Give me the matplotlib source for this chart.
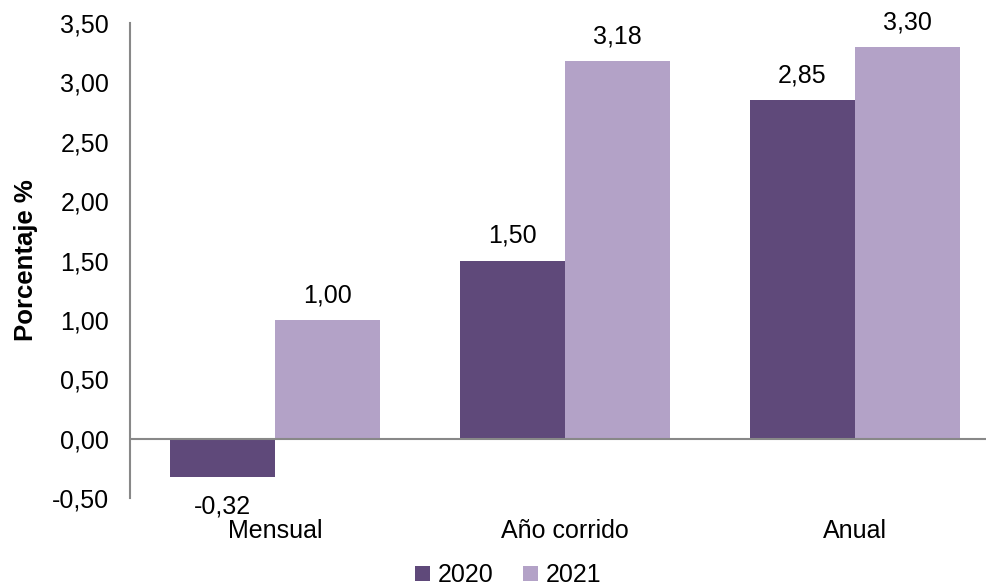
import matplotlib
matplotlib.use("Agg")
import matplotlib.pyplot as plt
import numpy as np

categorias = ["Mensual", "Año corrido", "Anual"]
series = ["2020", "2021"]
valores_2020 = [-0.32, 1.50, 2.85]
valores_2021 = [1.00, 3.18, 3.30]
yticks = [-0.5, 0.0, 0.5, 1.0, 1.5, 2.0, 2.5, 3.0, 3.5]

colores = ["#5F497A", "#B3A2C7"]

plt.rcParams['font.family'] = ['Liberation Sans', 'DejaVu Sans']
fs = 18


def fmt(v):
    return "{:.2f}".format(v).replace(".", ",")


fig = plt.figure(figsize=(9.87, 5.88), dpi=100)
ax = fig.add_axes([130 / 987, 90 / 588, 857 / 987, 475 / 588])

x = np.arange(len(categorias))
ancho = 105 / 290
b1 = ax.bar(x - ancho / 2, valores_2020, ancho, color=colores[0], label=series[0])
b2 = ax.bar(x + ancho / 2, valores_2021, ancho, color=colores[1], label=series[1])

# etiquetas de valores
for barras in (b1, b2):
    for r in barras:
        h = r.get_height()
        xc = r.get_x() + r.get_width() / 2
        if h >= 0:
            ax.annotate(fmt(h), (xc, h), xytext=(0, 9), textcoords="offset points",
                        ha="center", va="bottom", fontsize=fs, color="#000000")
        else:
            ax.annotate(fmt(h), (xc, h), xytext=(0, -13), textcoords="offset points",
                        ha="center", va="top", fontsize=fs, color="#000000")

ax.axhline(0, color="#888888", lw=1.5, zorder=3)
ax.set_xlim(-0.5, 2.5 - 13 / 290)
ax.set_ylim(-0.5, 3.5)
ax.set_yticks(yticks)
ax.set_yticklabels([fmt(t) for t in yticks])
ax.set_xticks(x)
ax.set_xticklabels(categorias)
ax.tick_params(axis="y", length=0, pad=15, labelsize=fs)
ax.tick_params(axis="x", length=0, pad=15, labelsize=fs)

for s in ["top", "right", "bottom"]:
    ax.spines[s].set_visible(False)
ax.spines["left"].set_color("#888888")
ax.spines["left"].set_linewidth(1.5)

ax.set_ylabel("Porcentaje %", fontsize=18.5, fontweight="bold", labelpad=10)

fig.legend(loc="lower center", bbox_to_anchor=(0.515, -0.037), ncol=2, frameon=False,
           fontsize=fs, handlelength=0.6, handleheight=0.6, handletextpad=0.3,
           columnspacing=1.2)

fig.savefig("out.png", dpi=100)
